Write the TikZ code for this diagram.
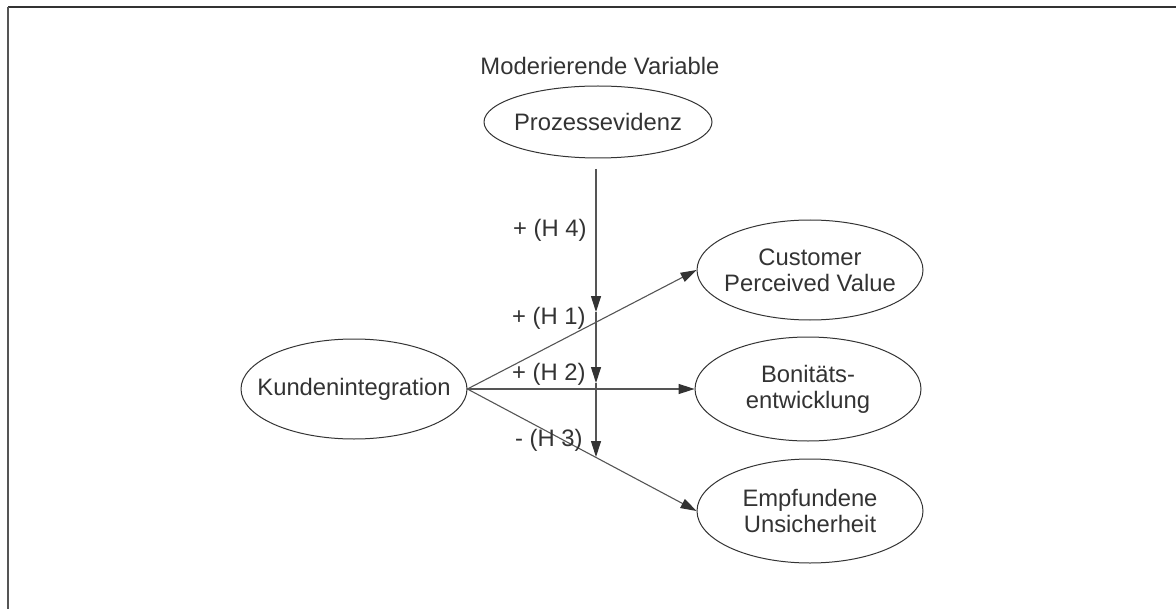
\documentclass[tikz,border=0pt]{standalone}
\usepackage{fontspec}
\setmainfont{Liberation Sans}
\usetikzlibrary{arrows.meta,shapes.geometric}
\definecolor{ink}{HTML}{333333}
\definecolor{wire}{HTML}{555555}
\begin{document}
\begin{tikzpicture}[x=0.5pt,y=-0.5pt,
  every node/.style={font=\fontsize{11.9}{13}\selectfont, text=ink},
  var/.style={rectangle, minimum width=113pt, minimum height=51pt, inner sep=0pt, align=center},
  ring/.style={draw=ink, line width=0.5pt},
  link/.style={draw=wire, line width=0.55pt, -{Triangle[length=8pt,width=5pt,color=ink]}},
  lab/.style={anchor=east, inner sep=0pt}]
\useasboundingbox (0,0) rectangle (1176,609);
% frame
\coordinate (fTL) at (8,7);
\coordinate (fTR) at (1176,7);
\coordinate (fBL) at (8,609);
\draw[ink, line width=1.2pt] (fTL) -- (fTR);
\draw[wire, line width=0.6pt] (fTL) -- (fBL);
% nodes
\node (mod) at (600,66) {Moderierende Variable};
\node[var, minimum width=114pt, minimum height=36pt] (proz) at (598,122) {Prozessevidenz};
\node[var] (kund) at (354,389) {Kundenintegration};
\node[var] (cpv) at (810,270) {Customer\\Perceived Value};
\node[var] (bon) at (808,389) {Bonitäts-\\entwicklung};
\node[var] (unc) at (810,511) {Empfundene\\Unsicherheit};
% ellipse outlines
\draw[ring] (proz.center) ellipse [x radius=57pt, y radius=18pt];
\draw[ring] (kund.center) ellipse [x radius=56.5pt, y radius=25pt];
\draw[ring] (cpv.center) ellipse [x radius=56.5pt, y radius=25pt];
\draw[ring] (bon.center) ellipse [x radius=56.5pt, y radius=26pt];
\draw[ring] (unc.center) ellipse [x radius=56.5pt, y radius=26pt];
% main paths
\draw[link] (kund.east) -- (cpv.west);
\draw[link] (kund.east) -- (bon.west);
\draw[link] (kund.east) -- (unc.west);
% moderating path
\coordinate (mTop) at (596,169);
\coordinate (m1) at (596,312);
\coordinate (m2) at (596,383);
\coordinate (m3) at (596,457);
\draw[link] (mTop) -- (m1);
\draw[link] (m1) -- (m2);
\draw[link] (m2) -- (m3);
% labels
\node[lab] (h4) at (587,230) {+ (H 4)};
\node[lab] (h1) at (586,318) {+ (H 1)};
\node[lab] (h2) at (586,374) {+ (H 2)};
\node[lab] (h3) at (583,440) {- (H 3)};
\end{tikzpicture}
\end{document}
